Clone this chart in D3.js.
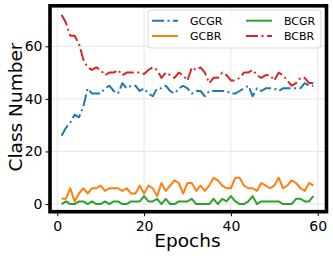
<!DOCTYPE html>
<html><head><meta charset="utf-8">
<script src="https://cdn.jsdelivr.net/npm/d3@7/dist/d3.min.js"></script>
<style>body{margin:0;background:#fff}svg{display:block}</style>
</head><body>
<svg id="c" width="333" height="258"></svg>
<script>
const epochs = d3.range(1, 60);
const GCGR = [26,29,31,34,33,37,44,42,42,42,44,45,43,42,46,44,45,45,43,44,42,41,44,44,45,43,42,44,45,44,42,43,43,41,43,43,43,43,43,42,42,43,44,45,41,44,43,44,44,44,43,44,44,44,44,44,46,45,45];
const GCBR = [2,2,6,1,4,6,4,6,6,7,5,6,6,6,5,6,4,4,7,4,7,6,3,8,5,7,9,8,4,8,8,5,7,5,7,10,9,7,6,6,10,10,7,6,6,5,8,7,6,7,10,6,7,9,8,6,5,8,7];
const BCGR = [0,1,0,0,1,1,0,1,0,0,1,0,1,1,0,0,1,1,1,3,1,1,2,0,2,0,0,1,1,1,2,0,0,0,0,2,0,2,1,3,1,0,0,1,3,0,1,1,1,1,1,0,0,0,2,2,1,1,3];
const BCBR = [72,69,64,64,61,55,52,51,52,51,49,50,50,51,49,50,50,50,50,49.5,51,52,51,48,50,49,48,50,49,47,52,51,52,50,46,48,48,50,49,47,47,48,50,50,51,49,48,49,49,47,50,49,47,45,46,48,48,46,46];
const xTicks = [0,20,40,60];
const yTicks = [0,20,40,60];
const seriesNames = ["GCGR","GCBR","BCGR","BCBR"];
const seriesColors = ["#1f77b4","#ff7f0e","#2ca02c","#d62728"];
const seriesDash = ["12,3.5,2,3.5", null, null, "12,3.5,2,3.5"];
const seriesData = [GCGR, GCBR, BCGR, BCBR];

const svg = d3.select("#c");
const L = 49, R = 326, T = 5.3, B = 212.7;
const x = d3.scaleLinear().domain([-1.9, 61.9]).range([L, R]);
const y = d3.scaleLinear().domain([-3.3, 75.6]).range([B, T]);
const font = "DejaVu Sans, sans-serif";

// grid
svg.append("g").selectAll("line").data(xTicks).join("line")
  .attr("x1", d => x(d)).attr("x2", d => x(d)).attr("y1", T).attr("y2", B)
  .attr("stroke", "#e3e3e3").attr("stroke-width", 0.9);
svg.append("g").selectAll("line").data(yTicks).join("line")
  .attr("y1", d => y(d)).attr("y2", d => y(d)).attr("x1", L).attr("x2", R)
  .attr("stroke", "#e3e3e3").attr("stroke-width", 0.9);

// lines
seriesData.forEach((s, i) => {
  const line = d3.line().x((d, j) => x(epochs[j])).y(d => y(d));
  const p = svg.append("path").datum(s).attr("d", line)
    .attr("fill", "none").attr("stroke", seriesColors[i]).attr("stroke-width", 2)
    .attr("stroke-linejoin", "round");
  if (seriesDash[i]) p.attr("stroke-dasharray", seriesDash[i]);
});

// axes
const xAxis = d3.axisBottom(x).tickValues(xTicks).tickSize(3.5).tickPadding(3);
const yAxis = d3.axisLeft(y).tickValues(yTicks).tickSize(3.5).tickPadding(3);
const gx = svg.append("g").attr("transform", `translate(0,${B})`).call(xAxis);
const gy = svg.append("g").attr("transform", `translate(${L},0)`).call(yAxis);
[gx, gy].forEach(g => {
  g.select(".domain").remove();
  g.selectAll("text").attr("font-family", font).attr("font-size", 14).attr("fill", "#000");
  g.selectAll("line").attr("stroke", "#000").attr("stroke-width", 1);
});
gx.selectAll("text").attr("dy", "0.71em").attr("y", 8);

// frame
svg.append("rect").attr("x", L + 1).attr("y", T + 0.5).attr("width", R - L - 0.5).attr("height", B - T - 1.5)
  .attr("fill", "none").attr("stroke", "#000").attr("stroke-width", 3.6);

// labels
svg.append("text").attr("x", (L + R) / 2).attr("y", 247).attr("text-anchor", "middle")
  .attr("font-family", font).attr("font-size", 18.5).text("Epochs");
svg.append("text").attr("transform", `translate(22,${(T + B) / 2 - 2}) rotate(-90)`).attr("text-anchor", "middle")
  .attr("font-family", font).attr("font-size", 18.5).text("Class Number");

// legend
const lg = svg.append("g");
lg.append("rect").attr("x", 148).attr("y", 10).attr("width", 173).attr("height", 38).attr("rx", 3)
  .attr("fill", "#fff").attr("fill-opacity", 0.8).attr("stroke", "#d8d8d8").attr("stroke-width", 1);
const pos = [[152, 20.7], [152, 36], [246, 20.7], [246, 36]];
seriesNames.forEach((n, i) => {
  const [lx, ly] = pos[i];
  const l = lg.append("line").attr("x1", lx).attr("x2", lx + 26).attr("y1", ly).attr("y2", ly)
    .attr("stroke", seriesColors[i]).attr("stroke-width", 2);
  if (seriesDash[i]) l.attr("stroke-dasharray", seriesDash[i]);
  lg.append("text").attr("x", lx + 38).attr("y", ly).attr("dy", "0.36em")
    .attr("font-family", font).attr("font-size", 11).text(n);
});
</script>
</body></html>
